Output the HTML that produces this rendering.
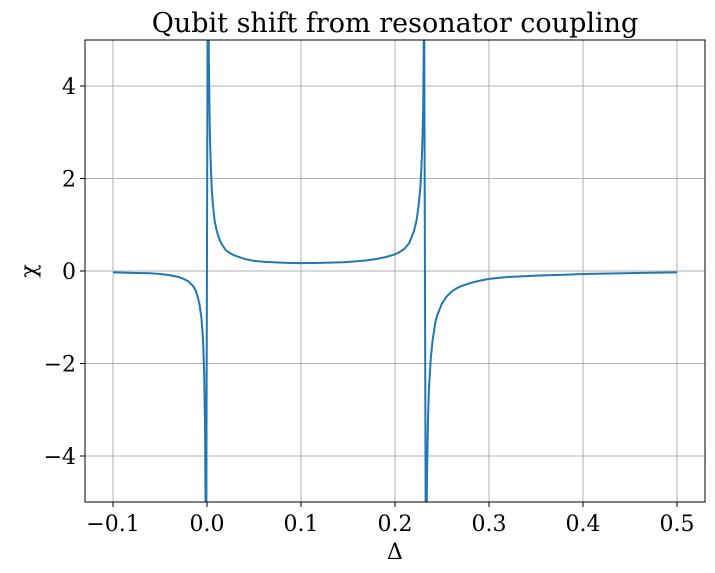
<!DOCTYPE html>
<html><head><meta charset="utf-8"><style>
html,body{margin:0;background:#fff;overflow:hidden}
svg{display:block}
svg text{font-family:"DejaVu Serif","Liberation Serif",serif;fill:#000}
</style></head><body>
<svg id="chart" width="715" height="573" xmlns="http://www.w3.org/2000/svg">
<defs><clipPath id="clip"><rect x="85" y="40" width="620" height="462"/></clipPath></defs>
<text x="395" y="32" font-size="27" text-anchor="middle">Qubit shift from resonator coupling</text>
<g id="grid"></g>
<g id="ticks"></g>
<path id="curve" clip-path="url(#clip)" fill="none" stroke="#1f77b4" stroke-width="2" stroke-linejoin="round"/>
<rect x="85" y="40" width="620" height="462" fill="none" stroke="#000" stroke-width="1"/>
<text x="395" y="559" font-size="22" text-anchor="middle">Δ</text>
<text x="0" y="0" font-size="22" text-anchor="middle" transform="translate(36,271) rotate(-90)">χ</text>
</svg>
<script>
const xTicks=[-0.1,0,0.1,0.2,0.3,0.4,0.5];
const xTickLabels=["−0.1","0.0","0.1","0.2","0.3","0.4","0.5"];
const yTicks=[-4,-2,0,2,4];
const yTickLabels=["−4","−2","0","2","4"];
const deltaValues=[-0.1,-0.08,-0.06,-0.05,-0.04,-0.035,-0.03,-0.025,-0.02,-0.017,-0.015,-0.012,-0.01,-0.008,-0.006,-0.005,-0.004,-0.003,-0.002,-0.001,0.001,0.002,0.003,0.004,0.005,0.006,0.008,0.01,0.012,0.015,0.02,0.025,0.03,0.04,0.05,0.06,0.07,0.085,0.1,0.115,0.13,0.145,0.16,0.17,0.18,0.19,0.2,0.205,0.21,0.215,0.22,0.223,0.225,0.227,0.228,0.229,0.23,0.231,0.233,0.234,0.235,0.236,0.238,0.24,0.243,0.245,0.248,0.25,0.255,0.26,0.265,0.27,0.28,0.29,0.3,0.32,0.35,0.38,0.4,0.45,0.5];
const chiValues=[-0.03,-0.04,-0.05,-0.065,-0.09,-0.11,-0.13,-0.17,-0.22,-0.28,-0.32,-0.42,-0.55,-0.72,-1.0,-1.25,-1.6,-2.2,-3.5,-7,8,4.5,3.0,2.3,1.8,1.5,1.1,0.9,0.75,0.6,0.45,0.38,0.33,0.26,0.22,0.2,0.19,0.175,0.17,0.172,0.18,0.19,0.21,0.23,0.26,0.3,0.36,0.41,0.48,0.6,0.85,1.1,1.4,1.8,2.2,2.7,3.5,6,-8,-4.5,-3.3,-2.6,-1.9,-1.5,-1.1,-0.95,-0.8,-0.7,-0.55,-0.45,-0.38,-0.33,-0.26,-0.21,-0.17,-0.13,-0.1,-0.08,-0.065,-0.045,-0.03];
const X=v=>207+v*940;
const Y=v=>271-v*46.25;
const NS="http://www.w3.org/2000/svg";
const grid=document.getElementById('grid'),ticks=document.getElementById('ticks');
function mk(tag,at,parent){const e=document.createElementNS(NS,tag);for(const k in at)e.setAttribute(k,at[k]);parent.appendChild(e);return e;}
xTicks.forEach((t,i)=>{
 const g=mk('line',{x1:X(t),x2:X(t),y1:40,y2:502,stroke:'#b0b0b0','stroke-width':1},grid);
 
 
 const tk=mk('line',{x1:X(t),x2:X(t),y1:502,y2:507,stroke:'#000'},ticks);
 
 
 const l=mk('text',{x:X(t),y:531,'font-size':22,'text-anchor':'middle'},ticks);
 l.textContent=xTickLabels[i];
 
 
});
yTicks.forEach((t,i)=>{
 const g=mk('line',{x1:85,x2:705,y1:Y(t),y2:Y(t),stroke:'#b0b0b0','stroke-width':1},grid);
 
 
 const tk=mk('line',{x1:80,x2:85,y1:Y(t),y2:Y(t),stroke:'#000'},ticks);
 
 
 const l=mk('text',{x:76,y:Y(t)+8,'font-size':22,'text-anchor':'end'},ticks);
 l.textContent=yTickLabels[i];
 
 
});
document.getElementById('curve').setAttribute('d',deltaValues.map((d,i)=>(i?'L':'M')+X(d).toFixed(2)+','+Y(chiValues[i]).toFixed(2)).join(''));
</script>
</body></html>
